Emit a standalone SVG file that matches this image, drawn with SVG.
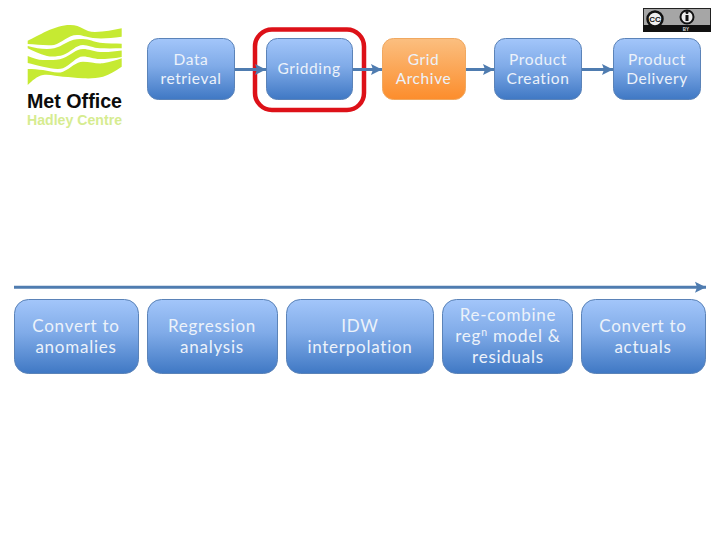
<svg xmlns="http://www.w3.org/2000/svg" width="720" height="540" viewBox="0 0 720 540">
<style>
.box{stroke:#5b83b8;stroke-width:1;fill:url(#blue)}
.orange{stroke:#f0a860;stroke-width:1;fill:url(#org)}
text{font-family:Lato,"Open Sans",sans-serif;text-anchor:middle;fill:#ecf2fa}
.s{font-size:15.500px;letter-spacing:.6px}
.l{font-size:17px;letter-spacing:.75px}
.c{stroke:#4f7cb0;stroke-width:3;fill:none;marker-end:url(#ah)}
.w{fill:#c6ea32}
.logo{font-family:"Liberation Sans",sans-serif;font-weight:700;text-anchor:start}
</style>
<defs>
<linearGradient id="blue" x1="0" y1="0" x2="0" y2="1"><stop offset="0" stop-color="#a3c6fa"/><stop offset=".45" stop-color="#80abe8"/><stop offset="1" stop-color="#3f78c4"/></linearGradient>
<linearGradient id="org" x1="0" y1="0" x2="0" y2="1"><stop offset="0" stop-color="#fbbf80"/><stop offset="1" stop-color="#fc8d2c"/></linearGradient>
<marker id="ah" markerUnits="userSpaceOnUse" markerWidth="14" markerHeight="14" refX="11" refY="7" orient="auto"><path d="M0 1.500L11 7L0 12.500L2 7Z" fill="#4f7cb0"/></marker>
</defs>
<rect width="720" height="540" fill="#fff"/>
<g id="logo">
<path class="w" d="M27.700 40.700C38 36 55 25 70 25C82 25 84 32 95 32C105 32 113 30 121.700 28.300V36.700C110 38 103 39 93 38C85 37 83 35 77 35C68 35 62 43 54 45C45 46 36 44 27.700 44Z"/>
<path class="w" d="M27.700 46C35 48 40 49 47 49C58 49 63 44 70 41C75 39 79 39 83 39C90 39 93 42 100 42.700C108 43.500 115 43.500 121.700 43.700V48.300C113 48.500 106 48.500 100 48.300C93 48 88 45 83 45C76 45 71 52 63 55C58 56.500 52 57 47 56C39 54 33 51 27.700 48.300Z"/>
<path class="w" d="M27.700 56C33 58 38 60 43 60C50 60 57 60.500 63 58.300C71 55 76 49 83 49C89 49 93 51.500 100 52C108 52.300 115 51.500 121.700 50.500V57C114 58.500 106 59 100 59C93 59 89 56.500 83 56.500C76 56.500 71 65 63 68.300C57 70 50 68 43 66.700C37 65.500 32 64 27.700 63Z"/>
<path class="w" d="M27.700 69C33 69 38 69.500 43 70C50 71 57 74 63 71.700C71 68 76 61.700 83 61.700C90 61.700 96 64 103 63.300C110 62.500 116 60 121.700 58.300V66.700C115 71 109 75 103 76.700C96 78.500 90 78.500 83 78.300C76 78 70 77 63 76.700C57 76.500 50 74 43 75C37 76 32 81 27.700 85Z"/>
<text class="logo" x="27" y="108" font-size="20" textLength="95" lengthAdjust="spacingAndGlyphs" style="fill:#0c0c0c">Met Office</text>
<text class="logo" x="27" y="125" font-size="15" textLength="95" lengthAdjust="spacingAndGlyphs" style="fill:#d6ec90">Hadley Centre</text>
</g>
<g id="cc-badge">
<rect x="643.500" y="8.500" width="67" height="23" fill="#a6a6a6" stroke="#222"/>
<rect x="643" y="25" width="68" height="7" fill="#111"/>
<circle cx="655" cy="19" r="7.500" fill="#eee" stroke="#111" stroke-width="2.500"/>
<circle cx="687" cy="17" r="6.500" fill="#eee" stroke="#111" stroke-width="2"/>
<rect x="685.500" y="15" width="3" height="6" fill="#111"/>
<circle cx="687" cy="12.500" r="1.500" fill="#111"/>
<text x="655" y="22" style="font-family:'Liberation Sans',sans-serif;font-weight:700;font-size:8px;fill:#111">CC</text>
<text x="686" y="30.500" style="font-family:'Liberation Sans',sans-serif;font-weight:700;font-size:4.500px;fill:#ddd">BY</text>
</g>
<g id="highlight"><rect x="255" y="29.500" width="109" height="80.500" rx="17" fill="none" stroke="#dd1118" stroke-width="4.500"/></g>
<g id="connectors">
<path class="c" d="M235 69.500H266"/>
<path class="c" d="M353 69.500H382"/>
<path class="c" d="M466 69.500H494"/>
<path class="c" d="M581 69.500H613"/>
<path class="c" d="M14 287.300H706"/>
</g>
<g id="n1"><rect class="box" x="147.500" y="38.500" width="87" height="61" rx="11"/><text class="s" x="191" y="65">Data</text><text class="s" x="191" y="84">retrieval</text></g>
<g id="n2"><rect class="box" x="266.500" y="38.500" width="86" height="61" rx="11"/><text class="s" x="309" y="74">Gridding</text></g>
<g id="n3"><rect class="orange" x="382.500" y="38.500" width="83" height="61" rx="11"/><text class="s" x="423.500" y="65">Grid</text><text class="s" x="423.500" y="84">Archive</text></g>
<g id="n4"><rect class="box" x="494.500" y="38.500" width="87" height="61" rx="11"/><text class="s" x="538" y="65">Product</text><text class="s" x="538" y="84">Creation</text></g>
<g id="n5"><rect class="box" x="613.500" y="38.500" width="87" height="61" rx="11"/><text class="s" x="657" y="65">Product</text><text class="s" x="657" y="84">Delivery</text></g>
<g id="n6"><rect class="box" x="14.500" y="299.500" width="124" height="74" rx="14"/><text class="l" x="76" y="332">Convert to</text><text class="l" x="76" y="353">anomalies</text></g>
<g id="n7"><rect class="box" x="147.500" y="299.500" width="130" height="74" rx="14"/><text class="l" x="212" y="332">Regression</text><text class="l" x="212" y="353">analysis</text></g>
<g id="n8"><rect class="box" x="286.500" y="299.500" width="147" height="74" rx="14"/><text class="l" x="360" y="332">IDW</text><text class="l" x="360" y="353">interpolation</text></g>
<g id="n9"><rect class="box" x="442.500" y="299.500" width="130" height="74" rx="14"/><text class="l" x="508" y="321">Re-combine</text><text class="l" x="508" y="342">reg<tspan font-size="10.500" dy="-6">n</tspan><tspan dy="6"> model &amp;</tspan></text><text class="l" x="508" y="363">residuals</text></g>
<g id="n10"><rect class="box" x="581.500" y="299.500" width="124" height="74" rx="14"/><text class="l" x="643" y="332">Convert to</text><text class="l" x="643" y="353">actuals</text></g>
</svg>
